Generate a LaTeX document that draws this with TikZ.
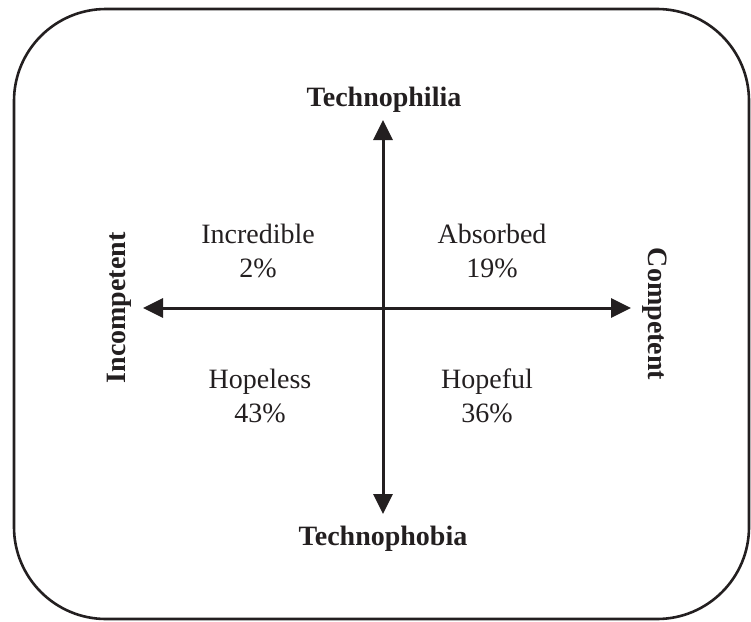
\documentclass[tikz,border=0pt]{standalone}
\usepackage{fontspec}
\setmainfont{Liberation Serif}
\usetikzlibrary{arrows.meta}
\definecolor{ink}{HTML}{231F20}
\begin{document}
\begin{tikzpicture}[x=1pt,y=-1pt,
  frame/.style={draw=ink,line width=2.6pt,rounded corners=92pt},
  axis/.style={draw=ink,line width=3pt,{Triangle[length=20pt,width=19pt]}-{Triangle[length=20pt,width=19pt]}},
  pole/.style={font=\fontsize{28}{34}\selectfont\bfseries,text=ink,inner sep=0pt},
  quad/.style={font=\fontsize{28}{34}\selectfont,text=ink,align=center,inner sep=0pt,anchor=base}]
  \useasboundingbox (0,0) rectangle (751,621);
  % outer rounded frame
  \draw[frame] (14,9) rectangle (749,619);
  % axis end points
  \coordinate (top) at (383,120);
  \coordinate (bottom) at (383,514);
  \coordinate (left) at (143,308);
  \coordinate (right) at (631,308);
  \draw[axis] (bottom) -- (top);
  \draw[axis] (left) -- (right);
  % pole labels
  \node[pole,anchor=base] (philia) at (384,106) {Technophilia};
  \node[pole,anchor=base] (phobia) at (383,545) {Technophobia};
  \node[pole,anchor=base,rotate=90] (incomp) at (125,308) {Incompetent};
  \node[pole,anchor=base,rotate=-90] (comp) at (648,314) {Competent};
  % quadrant labels (base anchor sits on the second line)
  \node[quad] (incred) at (258,277) {Incredible\\2\%};
  \node[quad] (absorb) at (492,277) {Absorbed\\19\%};
  \node[quad] (hopeless) at (260,422) {Hopeless\\43\%};
  \node[quad] (hopeful) at (487,422) {Hopeful\\36\%};
\end{tikzpicture}
\end{document}
